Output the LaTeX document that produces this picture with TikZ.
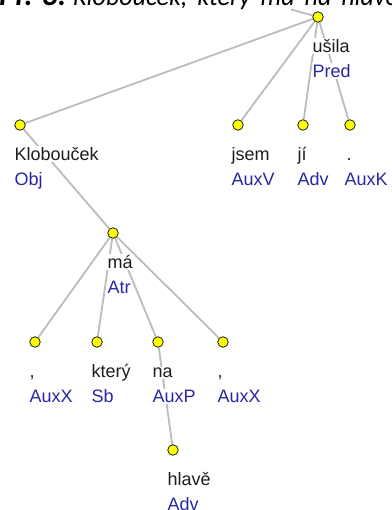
\documentclass[tikz,border=0pt]{standalone}
\usepackage{fontspec}
\setmainfont{Liberation Sans}
\newfontfamily\titlefont{Carlito}
\usetikzlibrary{backgrounds,calc}
\definecolor{edgegray}{RGB}{188,188,188}
\definecolor{funcblue}{RGB}{40,40,160}
\definecolor{wordblack}{RGB}{30,30,30}
\definecolor{dotyellow}{RGB}{255,255,0}
\newcommand{\tsp}{\hspace{10pt}}
\begin{document}
\begin{tikzpicture}[x=1pt,y=-1pt,
  dot/.style={circle,draw=black,line width=0.7pt,fill=dotyellow,minimum size=10.5pt,inner sep=0pt},
  edge/.style={draw=edgegray,line width=1.8pt},
  word/.style={anchor=base west,fill=white,inner xsep=1pt,inner ysep=1pt,font=\fontsize{18}{20}\selectfont,text=wordblack},
  func/.style={word,text=funcblue},
  ttl/.style={anchor=base west,inner sep=0pt,text=black}
]
\useasboundingbox (0,0) rectangle (391,510);
% title (cut off at the top)
\node[ttl,font=\titlefont\fontsize{31}{33}\selectfont\bfseries\itshape] (ttlA) at (-1,5.5) {Př. 3:};
\node[ttl,font=\titlefont\fontsize{26}{28}\selectfont\itshape] (ttlB) at (73,5.5) {Klobouček,\tsp který\tsp má\tsp na\tsp hlavě};
% dots
\node[dot] (n0) at (318,17) {};
\node[dot] (n1) at (20,125) {};
\node[dot] (n2) at (238,125) {};
\node[dot] (n3) at (303,125) {};
\node[dot] (n4) at (350,125) {};
\node[dot] (n5) at (113,233) {};
\node[dot] (n6) at (35,342) {};
\node[dot] (n7) at (97,342) {};
\node[dot] (n8) at (158,342) {};
\node[dot] (n9) at (223,342) {};
\node[dot] (n10) at (173,450) {};
\coordinate (up) at (291,9.5);
% labels
\node[word] (w0) at ($(n0)+(-6.5,35.5)$) {ušila};
\node[func] (f0) at ($(n0)+(-6.5,60.5)$) {Pred};
\node[word] (w1) at ($(n1)+(-6.5,35.5)$) {Klobouček};
\node[func] (f1) at ($(n1)+(-6.5,60.5)$) {Obj};
\node[word] (w2) at ($(n2)+(-7.5,35.5)$) {jsem};
\node[func] (f2) at ($(n2)+(-7.5,60.5)$) {AuxV};
\node[word] (w3) at ($(n3)+(-6.5,35.5)$) {jí};
\node[func] (f3) at ($(n3)+(-6.5,60.5)$) {Adv};
\node[word] (w4) at ($(n4)+(-4.5,35.5)$) {.};
\node[func] (f4) at ($(n4)+(-6.5,60.5)$) {AuxK};
\node[word] (w5) at ($(n5)+(-6.5,35.5)$) {má};
\node[func] (f5) at ($(n5)+(-6.5,60.5)$) {Atr};
\node[word] (w6) at ($(n6)+(-6.5,35.5)$) {,};
\node[func] (f6) at ($(n6)+(-6.5,60.5)$) {AuxX};
\node[word] (w7) at ($(n7)+(-6.5,35.5)$) {který};
\node[func] (f7) at ($(n7)+(-6.5,60.5)$) {Sb};
\node[word] (w8) at ($(n8)+(-6.5,35.5)$) {na};
\node[func] (f8) at ($(n8)+(-6.5,60.5)$) {AuxP};
\node[word] (w9) at ($(n9)+(-6.5,35.5)$) {,};
\node[func] (f9) at ($(n9)+(-6.5,60.5)$) {AuxX};
\node[word] (w10) at ($(n10)+(-6.5,35.5)$) {hlavě};
\node[func] (f10) at ($(n10)+(-6.5,60.5)$) {Adv};
% edges
\begin{scope}[on background layer]
\draw[edge] (n0) -- (up);
\draw[edge] (n0) -- (n1);
\draw[edge] (n0) -- (n2);
\draw[edge] (n0) -- (n3);
\draw[edge] (n0) -- (n4);
\draw[edge] (n1) -- (n5);
\draw[edge] (n5) -- (n6);
\draw[edge] (n5) -- (n7);
\draw[edge] (n5) -- (n8);
\draw[edge] (n5) -- (n9);
\draw[edge] (n8) -- (n10);
\end{scope}
\end{tikzpicture}
\end{document}
